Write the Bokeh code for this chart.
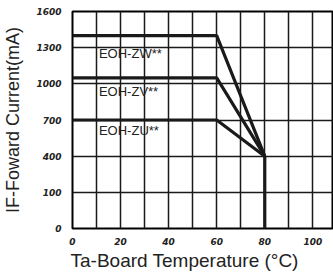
from bokeh.plotting import figure
from bokeh.models import FixedTicker, Range1d, Title
from bokeh.core.properties import value
from bokeh.embed import file_html
from bokeh.resources import INLINE

# data (temperature in deg C, current in mA on the chart's tick scale)
temps = [0, 60, 80]
zw_current = [1400, 1400, 400]
zv_current = [1050, 1050, 400]
zu_current = [700, 700, 400]
drop_temps = [80, 80]
drop_current = [400, -200]

x_ticks = [0, 20, 40, 60, 80, 100]
x_minor = [10, 30, 50, 70, 90, 110]
y_ticks = [-200, 100, 400, 700, 1000, 1300, 1600]
y_tick_labels = ["0", "100", "400", "700", "1000", "1300", "1600"]

label_names = ["EOH-ZW**", "EOH-ZV**", "EOH-ZU**"]
label_x = [11, 11, 11]
label_y = [1252, 937, 613]

p = figure(width=333, height=272, output_backend="svg", toolbar_location=None,
           x_range=Range1d(0, 108.6), y_range=Range1d(-200, 1600),
           min_border_left=68, min_border_right=0, min_border_top=11, min_border_bottom=44)

p.background_fill_color = "white"
p.border_fill_color = "white"
p.outline_line_color = "black"
p.outline_line_width = 2

p.xaxis.ticker = FixedTicker(ticks=x_ticks, minor_ticks=x_minor)
p.yaxis.ticker = FixedTicker(ticks=y_ticks)
p.yaxis.major_label_overrides = {t: l for t, l in zip(y_ticks, y_tick_labels)}

for ax in (p.xaxis, p.yaxis):
    ax.axis_line_color = None
    ax.major_tick_line_color = None
    ax.minor_tick_line_color = None
    ax.major_label_text_font = "DejaVu Sans"
    ax.major_label_text_font_style = "bold italic"
    ax.major_label_text_font_size = "9px"
    ax.major_label_text_color = "#222222"
    ax.major_label_standoff = 5
    ax.axis_label_text_font = "Liberation Sans"
    ax.axis_label_text_font_style = "normal"
    ax.axis_label_text_color = "#222222"

p.xaxis.major_label_standoff = 3
p.yaxis.axis_label = "IF-Foward Current(mA)"
p.yaxis.axis_label_text_font_size = "18px"
p.yaxis.axis_label_standoff = 10

p.add_layout(Title(text="Ta-Board Temperature (°C)", align="left", offset=-2,
                   text_font="Liberation Sans", text_font_style="normal",
                   text_font_size="19px", text_color="#222222", standoff=0), "below")

p.xgrid.grid_line_color = "#1a1a1a"
p.xgrid.grid_line_width = 1.5
p.xgrid.minor_grid_line_color = "#1a1a1a"
p.xgrid.minor_grid_line_width = 1.5
p.ygrid.grid_line_color = "#1a1a1a"
p.ygrid.grid_line_width = 1.5

for cur in (zw_current, zv_current, zu_current):
    p.line(temps, cur, line_color="#1a1a1a", line_width=3.2)
p.line(drop_temps, drop_current, line_color="#1a1a1a", line_width=3.2)

p.text(x=label_x, y=label_y, text=label_names, text_font=value("Liberation Sans"),
       text_font_size="13px", text_color="#222222", text_baseline="middle")

open("out.html", "w").write(file_html(p, INLINE))
